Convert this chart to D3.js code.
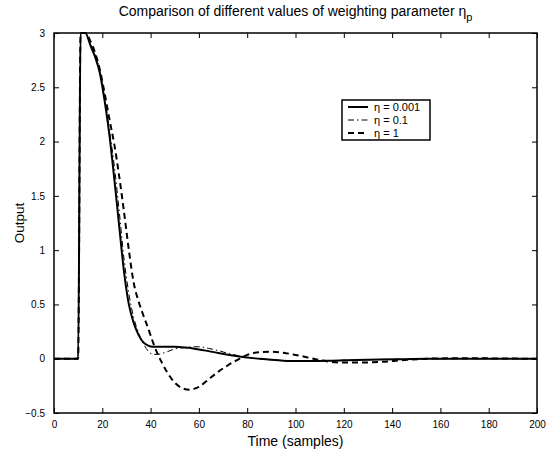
<!DOCTYPE html>
<html>
<head>
<meta charset="utf-8">
<script src="https://cdn.jsdelivr.net/npm/d3@7"></script>
<style>
  body { margin: 0; background: #fff; }
  svg { font-family: "Liberation Sans", Arial, sans-serif; }
</style>
</head>
<body>
<div id="chart"></div>
<script>
// sample times (shared by all three series)
const time = [0, 10, 11, 13, 15, 17, 19, 21, 23, 25,
              27, 29, 31, 33, 35, 37, 39, 41, 43, 45,
              47, 50, 53, 56, 60, 64, 68, 72, 76, 80,
              85, 90, 95, 100, 105, 110, 115, 120, 125, 135,
              145, 155, 170, 185, 200];

// eta = 0.001 (solid)
const outSolid = [0, 0, 3, 3, 2.89, 2.78, 2.63, 2.37, 2.05, 1.65,
                  1.22, 0.80, 0.50, 0.33, 0.22, 0.15, 0.12, 0.11, 0.11, 0.11,
                  0.11, 0.11, 0.105, 0.10, 0.085, 0.07, 0.053, 0.037, 0.022, 0.01,
                  0.0, -0.01, -0.018, -0.022, -0.022, -0.02, -0.018, -0.015, -0.012, -0.007,
                  -0.004, -0.001, 0, 0, 0];

// eta = 0.1 (dash-dot)
const outDashDot = [0, 0, 3, 3, 2.9, 2.8, 2.65, 2.4, 2.1, 1.77,
                    1.36, 0.92, 0.6, 0.38, 0.24, 0.14, 0.07, 0.04, 0.04, 0.05,
                    0.065, 0.09, 0.1, 0.108, 0.11, 0.095, 0.075, 0.05, 0.03, 0.015,
                    0.0, -0.01, -0.017, -0.02, -0.02, -0.019, -0.017, -0.015, -0.012, -0.007,
                    -0.004, -0.001, 0, 0, 0];

// eta = 1 (dashed)
const outDashed = [0, 0, 3, 3, 2.93, 2.82, 2.66, 2.44, 2.2, 1.97,
                   1.68, 1.35, 1.0, 0.70, 0.53, 0.40, 0.28, 0.15, 0.04, -0.05,
                   -0.13, -0.22, -0.27, -0.285, -0.26, -0.19, -0.12, -0.06, -0.01, 0.035,
                   0.06, 0.065, 0.055, 0.035, 0.012, -0.012, -0.03, -0.035, -0.035, -0.03,
                   -0.012, 0, 0.005, 0.002, 0];

const legendLabels = ["η = 0.001", "η = 0.1", "η = 1"];
const xTicks = [0, 20, 40, 60, 80, 100, 120, 140, 160, 180, 200];
const yTicks = [-0.5, 0, 0.5, 1, 1.5, 2, 2.5, 3];

const width = 546, height = 454;
const mLeft = 54, mRight = 537, mTop = 33, mBottom = 413;

const svg = d3.select('#chart').append('svg')
  .attr('width', width).attr('height', height);

const x = d3.scaleLinear().domain([0, 200]).range([mLeft, mRight]);
const y = d3.scaleLinear().domain([-0.5, 3]).range([mBottom, mTop]);

// clip so the flat peak at 3 sits on the frame like in matlab
svg.append('clipPath').attr('id', 'clip')
  .append('rect').attr('x', mLeft).attr('y', mTop - 1)
  .attr('width', mRight - mLeft).attr('height', mBottom - mTop + 1);

const series = [
  {vals: outSolid, dash: null, w: 2},
  {vals: outDashDot, dash: '6,3,1.5,3', w: 1},
  {vals: outDashed, dash: '6,4', w: 2}
];

const line = d3.line()
  .x((d, i) => x(time[i]))
  .y(d => y(d))
  .curve(d3.curveMonotoneX);

series.forEach(s => {
  svg.append('path')
    .attr('clip-path', 'url(#clip)')
    .attr('d', line(s.vals))
    .attr('fill', 'none')
    .attr('stroke', '#000')
    .attr('stroke-width', s.w)
    .attr('stroke-dasharray', s.dash);
});

// axes (ticks point inwards, box all round)
const tick = 5;
const xAxisB = d3.axisBottom(x).tickValues(xTicks).tickSizeInner(-tick).tickSizeOuter(0).tickPadding(8);
const xAxisT = d3.axisTop(x).tickValues(xTicks).tickSizeInner(-tick).tickSizeOuter(0).tickFormat('');
const yAxisL = d3.axisLeft(y).tickValues(yTicks).tickSizeInner(-tick).tickSizeOuter(0).tickPadding(9)
  .tickFormat(d => d < 0 ? '\u2212' + Math.abs(d) : d);
const yAxisR = d3.axisRight(y).tickValues(yTicks).tickSizeInner(-tick).tickSizeOuter(0).tickFormat('');

svg.append('g').attr('transform', `translate(0,${mBottom})`).call(xAxisB);
svg.append('g').attr('transform', `translate(0,${mTop})`).call(xAxisT);
svg.append('g').attr('transform', `translate(${mLeft},0)`).call(yAxisL);
svg.append('g').attr('transform', `translate(${mRight},0)`).call(yAxisR);

svg.selectAll('.domain').remove();
svg.selectAll('.tick line').attr('stroke', '#000').attr('stroke-width', 1);
svg.selectAll('.tick text').attr('font-size', 10).attr('fill', '#000')
  .attr('font-family', '"Liberation Sans", Arial, sans-serif');

svg.append('rect')
  .attr('x', mLeft).attr('y', mTop)
  .attr('width', mRight - mLeft).attr('height', mBottom - mTop)
  .attr('fill', 'none').attr('stroke', '#000').attr('stroke-width', 1.5);

// labels
const title = svg.append('text')
  .attr('x', (mLeft + mRight) / 2).attr('y', 16)
  .attr('text-anchor', 'middle').attr('font-size', 14);
title.append('tspan').text('Comparison of different values of weighting parameter η');
title.append('tspan').attr('font-size', 11).attr('dy', 5).text('p');

svg.append('text')
  .attr('x', (mLeft + mRight) / 2).attr('y', 446)
  .attr('text-anchor', 'middle').attr('font-size', 14)
  .text('Time (samples)');

svg.append('text')
  .attr('transform', `translate(24,${(mTop + mBottom) / 2}) rotate(-90)`)
  .attr('text-anchor', 'middle').attr('font-size', 13.5)
  .text('Output');

// legend
const lg = svg.append('g');
lg.append('rect')
  .attr('x', 342).attr('y', 100).attr('width', 88).attr('height', 40)
  .attr('fill', '#fff').attr('stroke', '#000').attr('stroke-width', 1.5);
legendLabels.forEach((lab, i) => {
  const yy = 107 + i * 13;
  lg.append('line')
    .attr('x1', 348).attr('x2', 368).attr('y1', yy).attr('y2', yy)
    .attr('stroke', '#000').attr('stroke-width', series[i].w)
    .attr('stroke-dasharray', series[i].dash);
  lg.append('text')
    .attr('x', 374).attr('y', yy + 4)
    .attr('font-size', 11).text(lab);
});
</script>
</body>
</html>
